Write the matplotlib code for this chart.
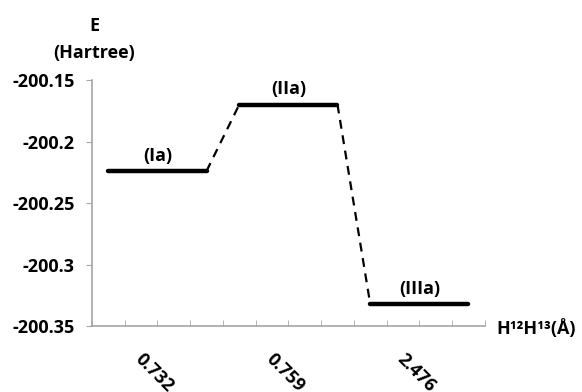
import matplotlib.pyplot as plt
from matplotlib.transforms import ScaledTranslation

# energy levels (Hartree) for the three structures
states = ["(Ia)", "(IIa)", "(IIIa)"]
energies = [-200.224, -200.170, -200.332]
distances = ["0.732", "0.759", "2.476"]

points_per_state = 4
yticks = [-200.35, -200.3, -200.25, -200.2, -200.15]
ytick_labels = ["-200.35", "-200.3", "-200.25", "-200.2", "-200.15"]

plt.rcParams["font.family"] = ["Open Sans", "DejaVu Sans"]
plt.rcParams["font.weight"] = "bold"

fig = plt.figure(figsize=(5.82, 3.92), dpi=100)
ax = fig.add_axes([0.158, 0.168, 0.675, 0.628])

axis_grey = "#a6a6a6"
fs = 13
n = points_per_state * len(states)

# solid plateau for each state, dashed link to the next one
for i, (label, e) in enumerate(zip(states, energies)):
    x0 = i * points_per_state
    x1 = x0 + points_per_state - 1
    ax.plot([x0, x1], [e, e], color="black", lw=3.2, solid_capstyle="round")
    ax.text((x0 + x1) / 2, e + 0.005, label, ha="center", va="bottom",
            fontsize=fs, fontweight="bold")
    if i < len(states) - 1:
        ax.plot([x1, x1 + 1], [e, energies[i + 1]], color="black",
                lw=1.6, ls=(0, (4, 3)))

ax.set_xlim(-0.5, n - 0.5)
ax.set_ylim(-200.35, -200.15)

ax.set_yticks(yticks)
ax.set_yticklabels(ytick_labels, fontsize=fs, fontweight="bold")
ax.tick_params(axis="y", direction="out", length=4.3, color=axis_grey, pad=8)

# category boundaries as small inward ticks, distance labels under selected points
ax.set_xticks([k - 0.5 for k in range(n + 1)], minor=True)
ax.tick_params(axis="x", which="minor", direction="in", length=4, color=axis_grey)
ax.set_xticks([1 + points_per_state * i for i in range(len(states))])
ax.set_xticklabels(distances, rotation=-45, ha="left", va="top",
                   rotation_mode="anchor", fontsize=fs, fontweight="bold")
ax.tick_params(axis="x", which="major", length=0, pad=17)
shift = ScaledTranslation(3 / 100, 0, fig.dpi_scale_trans)
for lbl in ax.get_xticklabels():
    lbl.set_transform(lbl.get_transform() + shift)

for side in ("top", "right"):
    ax.spines[side].set_visible(False)
for side in ("left", "bottom"):
    ax.spines[side].set_color(axis_grey)
    ax.spines[side].set_linewidth(1.2)

fig.text(0.162, 0.933, "E", ha="center", va="center", fontsize=fs, fontweight="bold")
fig.text(0.162, 0.865, "(Hartree)", ha="center", va="center", fontsize=fs, fontweight="bold")
fig.text(0.853, 0.163, "H¹²H¹³(Å)", ha="left", va="center",
         fontsize=fs, fontweight="bold")

fig.savefig("out.png", dpi=100, facecolor="white")
